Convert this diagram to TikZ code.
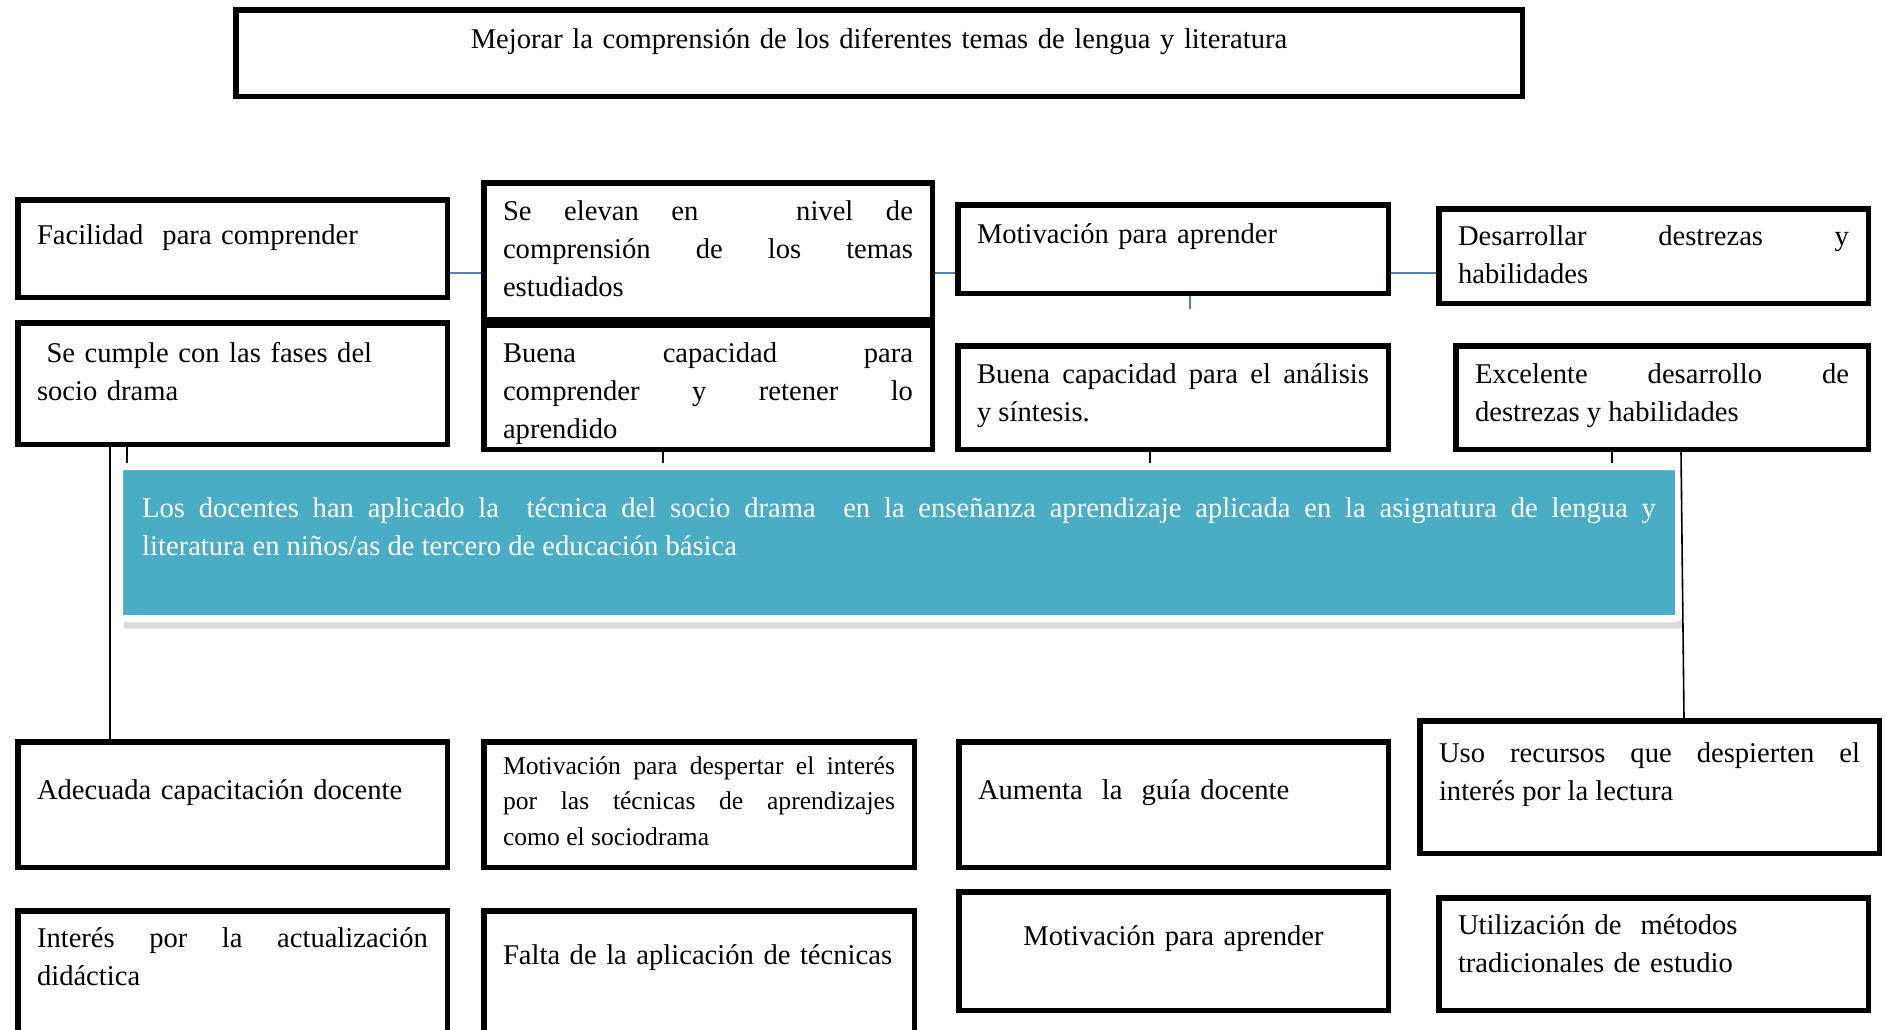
\documentclass[tikz,border=0pt]{standalone}
\usepackage{fontspec}
\setmainfont{Liberation Serif}
\usetikzlibrary{positioning, shadows}
\hyphenpenalty=10000
\exhyphenpenalty=10000
\newdimen\pix
\pix=0.5pt
\definecolor{aguamarina}{RGB}{75,172,198}
\definecolor{azulenlace}{RGB}{79,129,189}
\tikzset{
    caja/.style={rectangle, draw=black, line width=5.5\pix, anchor=north west, inner xsep=19.25\pix, inner ysep=0pt, align=justify, font=\fontsize{14.3}{19}\selectfont},
    problema/.style={rectangle, fill=aguamarina, draw=white, line width=7\pix, rounded corners=3\pix, anchor=north west, inner xsep=22.7\pix, inner ysep=0pt, align=justify, text=white, font=\fontsize{14.3}{19}\selectfont, drop shadow={shadow xshift=4\pix, shadow yshift=-10\pix, fill=black!40, opacity=0.35}},
    enlace/.style={azulenlace, line width=1.6\pix},
    conector/.style={black, line width=1.6\pix}
}
\begin{document}
\begin{tikzpicture}[x=1\pix, y=-1\pix]
    \useasboundingbox (0,0) rectangle (1886,1029);
    \node (meta) [caja, align=center, text width=1248\pix, text height=38.25\pix, text depth=48.25\pix] at (233,7) {Mejorar la comprensión de los diferentes temas de lengua y literatura};

    \node (efA) [caja, align=left, text width=391\pix, text height=44.25\pix, text depth=53.25\pix] at (15,197) {Facilidad\ \ para comprender};
    \node (efA2) [caja, align=left, below=20\pix of efA, text width=391\pix, text height=39.25\pix, text depth=82.25\pix] {\ Se cumple con las fases del\\ socio drama};
    \node (efB) [caja, text width=410\pix, text height=37.25\pix, text depth=99.25\pix] at (481,180) {Se elevan en\ \ \ nivel de\linebreak comprensión de los temas\linebreak estudiados};
    \node (efB2) [caja, below=0pt of efB, text width=410\pix, text height=37.25\pix, text depth=87.25\pix] {Buena capacidad para\linebreak comprender y retener lo\linebreak aprendido};
    \node (efC) [caja, align=left, text width=392\pix, text height=38.25\pix, text depth=50.25\pix] at (955,202) {Motivación para aprender};
    \node (efC2) [caja, below=47\pix of efC, text width=392\pix, text height=37.25\pix, text depth=66.25\pix] {Buena capacidad para el análisis\linebreak y síntesis.};
    \node (efD) [caja, text width=391\pix, text height=36.25\pix, text depth=58.25\pix] at (1436,206) {Desarrollar destrezas y\linebreak habilidades};
    \node (efD2) [caja, text width=374\pix, text height=37.25\pix, text depth=66.25\pix] at (1453,343) {Excelente desarrollo de\linebreak destrezas y habilidades};

    \node (prob) [problema, text width=1513.6\pix, text height=50.5\pix, text depth=101.5\pix] at (116,463) {Los docentes han aplicado la\ \ técnica del socio drama\ \ en la enseñanza aprendizaje aplicada en la asignatura de lengua y\linebreak literatura en niños/as de tercero de educación básica};

    \node (caA) [caja, align=left, text width=391\pix, text height=57.25\pix, text depth=68.25\pix] at (15,739) {Adecuada capacitación docente};
    \node (caB) [caja, right=31\pix of caA, text width=392\pix, text height=32.25\pix, text depth=93.25\pix, font=\fontsize{12.8}{17.75}\selectfont] {Motivación para despertar el interés\linebreak por las técnicas de aprendizajes\linebreak como el sociodrama};
    \node (caC) [caja, align=left, right=39\pix of caB, text width=391\pix, text height=57.25\pix, text depth=68.25\pix] {Aumenta\ \ la\ \ guía docente};
    \node (caD) [caja, text width=421\pix, text height=41.25\pix, text depth=91.25\pix] at (1417,718) {Uso recursos que despierten el\linebreak interés por la lectura};
    \node (caA2) [caja, below=38\pix of caA, text width=391\pix, text height=36.25\pix, text depth=95.25\pix] {Interés por la actualización\linebreak didáctica};
    \node (caB2) [caja, align=left, below=38\pix of caB, text width=392\pix, text height=53.25\pix, text depth=78.25\pix] {Falta de la aplicación de técnicas};
    \node (caC2) [caja, align=center, text width=391\pix, text height=53.25\pix, text depth=65.25\pix] at (956,889) {Motivación para aprender};
    \node (caD2) [caja, align=left, text width=391\pix, text height=36.25\pix, text depth=76.25\pix] at (1436,895) {Utilización de\ \ métodos\\ tradicionales de estudio};

    \coordinate (nivelazul) at (0,273);
    \coordinate (colaC) at (1190,309);
    \draw [enlace] (efA.east |- nivelazul) -- (efB.west |- nivelazul);
    \draw [enlace] (efB.east |- nivelazul) -- (efC.west |- nivelazul);
    \draw [enlace] (efC.east |- nivelazul) -- (efD.west |- nivelazul);
    \draw [enlace] (efC.south -| colaC) -- (colaC);

    \coordinate (pataA) at (127,0);
    \coordinate (pataB) at (663,0);
    \coordinate (pataC) at (1150,0);
    \coordinate (pataD) at (1612,0);
    \coordinate (bajadaA) at (110,0);
    \coordinate (bajadaD) at (1681,0);
    \coordinate (llegadaD) at (1684,0);
    \foreach \ef/\pata in {efA2/pataA, efB2/pataB, efC2/pataC, efD2/pataD}
        \draw [conector] (\ef.south -| \pata) -- (prob.north -| \pata);
    \draw [conector] (efA2.south -| bajadaA) -- (caA.north -| bajadaA);
    \draw [conector] (efD2.south -| bajadaD) -- (caD.north -| llegadaD);
\end{tikzpicture}
\end{document}
